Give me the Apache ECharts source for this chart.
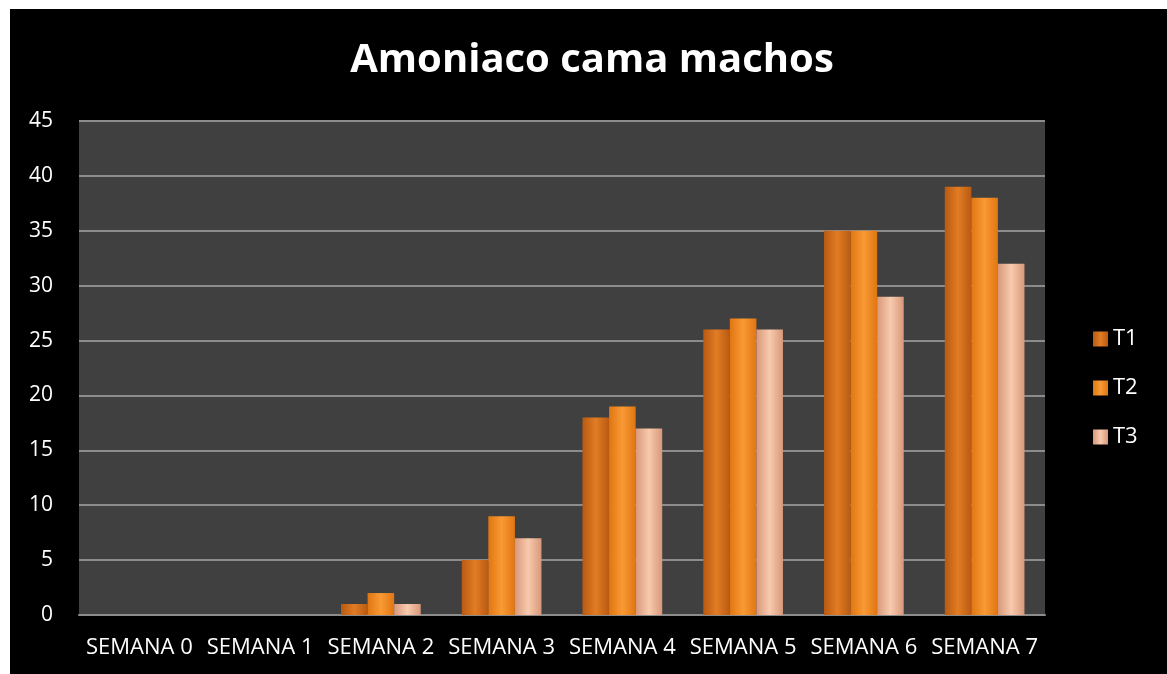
<!DOCTYPE html>
<html>
<head>
<meta charset="utf-8">
<script src="https://cdn.jsdelivr.net/npm/echarts@6/dist/echarts.min.js"></script>
<style>
  html, body { margin: 0; padding: 0; background: #ffffff; }
  #chart { position: absolute; left: 10px; top: 9px; width: 1157px; height: 665px; background: #000; }
</style>
</head>
<body>
<div id="chart"></div>
<script>
// datos
const semanas = ["SEMANA 0", "SEMANA 1", "SEMANA 2", "SEMANA 3", "SEMANA 4", "SEMANA 5", "SEMANA 6", "SEMANA 7"];
const t1 = [0, 0, 1, 5, 18, 26, 35, 39];
const t2 = [0, 0, 2, 9, 19, 27, 35, 38];
const t3 = [0, 0, 1, 7, 17, 26, 29, 32];

const chart = echarts.init(document.getElementById("chart"));

// degradado horizontal para imitar el biselado de Excel
function bevel(edge, mid) {
  return new echarts.graphic.LinearGradient(0, 0, 1, 0, [
    { offset: 0, color: edge },
    { offset: 0.5, color: mid },
    { offset: 1, color: edge },
  ]);
}

function serie(name, data, edge, mid) {
  return {
    name: name,
    type: "bar",
    data: data,
    barGap: 0,
    barCategoryGap: "34%",
    itemStyle: { color: bevel(edge, mid), borderWidth: 0 },
  };
}

const option = {
  backgroundColor: "#000",
  animation: false,
  title: {
    text: "Amoniaco cama machos",
    top: 27,
    left: 577,
    textAlign: "center",
    textStyle: { color: "#fff", fontSize: 40, fontWeight: "bold", fontFamily: "Open Sans" },
  },
  legend: {
    orient: "vertical",
    left: 1078,
    top: 311,
    itemWidth: 15,
    itemHeight: 15,
    itemGap: 21,
    icon: "rect",
    textStyle: { color: "#fff", fontSize: 22, fontFamily: "Open Sans", lineHeight: 28 },
  },
  grid: {
    left: 69, right: 122, top: 112, bottom: 59,
    show: true, backgroundColor: "#404040", borderWidth: 0,
  },
  xAxis: {
    type: "category",
    data: semanas,
    axisLine: { lineStyle: { color: "#8c8c8c", width: 2 } },
    axisTick: { show: false },
    axisLabel: { color: "#fff", fontSize: 22, margin: 22, fontFamily: "Open Sans", interval: 0 },
  },
  yAxis: {
    type: "value",
    min: 0, max: 45, interval: 5,
    axisLine: { show: false },
    axisTick: { show: false },
    splitLine: { lineStyle: { color: "#8c8c8c", width: 2 } },
    axisLabel: { color: "#fff", fontSize: 21, margin: 26, fontFamily: "Open Sans" },
  },
  series: [
    serie("T1", t1, "#B85A12", "#E27C24"),
    serie("T2", t2, "#E07612", "#F99A34"),
    serie("T3", t3, "#D8987A", "#F8CAAE"),
  ],
};
chart.setOption(option);
</script>
</body>
</html>
